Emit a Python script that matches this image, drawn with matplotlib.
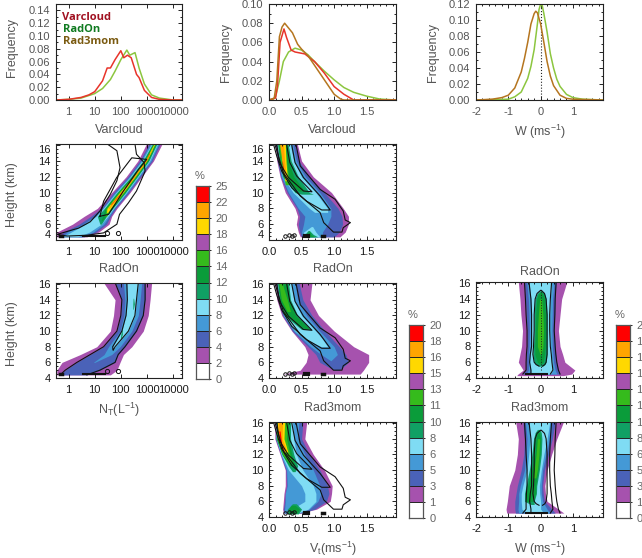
import numpy as np
import matplotlib
matplotlib.use("Agg")
import matplotlib.pyplot as plt
from matplotlib.colors import ListedColormap

plt.rcParams['font.family'] = ['Liberation Sans', 'DejaVu Sans']
plt.rcParams['mathtext.default'] = 'regular'

W_PX, H_PX = 642, 558

# colours of the percent bands, bottom to top
band_colors = ['#ffffff', '#a652ae', '#4a62b8', '#4499d6', '#7fdcf4', '#10a064',
               '#0a9c3a', '#35bb1c', '#a652ae', '#ffd800', '#ffa500', '#ff0000']
cbar_labels_nt = ['0', '2', '4', '6', '8', '10', '12', '14', '16', '18', '20', '22', '25']
cbar_labels_pct = ['0', '1', '3', '5', '6', '8', '10', '11', '13', '15', '16', '18', '20']

# frequency curves, top row
nt_x_red = [0.33, 1, 3, 6, 10, 20, 30, 40, 60, 100, 130, 180, 250, 400, 500, 800, 1500, 3000, 10000, 22000]
nt_y_red = [0, 0.001, 0.004, 0.008, 0.013, 0.03, 0.05, 0.05, 0.063, 0.077, 0.066, 0.07, 0.066, 0.04, 0.035, 0.015, 0.004, 0.001, 0, 0]
nt_x_green = [0.33, 1, 3, 6, 10, 20, 40, 60, 100, 170, 220, 350, 500, 800, 1500, 3000, 10000, 22000]
nt_y_green = [0, 0.001, 0.003, 0.007, 0.01, 0.018, 0.032, 0.045, 0.063, 0.078, 0.07, 0.074, 0.05, 0.025, 0.008, 0.003, 0, 0]

v_x_brown = [0, 0.08, 0.12, 0.16, 0.2, 0.24, 0.3, 0.36, 0.44, 0.5, 0.6, 0.7, 0.8, 0.9, 1.0, 1.1, 1.15, 1.95]
v_y_brown = [0, 0.002, 0.02, 0.066, 0.076, 0.08, 0.075, 0.07, 0.058, 0.053, 0.046, 0.036, 0.026, 0.016, 0.006, 0.001, 0, 0]
v_x_red = [0, 0.1, 0.13, 0.17, 0.23, 0.27, 0.34, 0.4, 0.55, 0.7, 0.85, 1.0, 1.15, 1.3, 1.95]
v_y_red = [0, 0.002, 0.015, 0.06, 0.074, 0.065, 0.052, 0.05, 0.048, 0.04, 0.028, 0.014, 0.006, 0, 0]
v_x_green = [0, 0.05, 0.1, 0.16, 0.22, 0.3, 0.4, 0.5, 0.6, 0.7, 0.85, 1.0, 1.15, 1.3, 1.5, 1.7, 1.95]
v_y_green = [0, 0, 0.003, 0.02, 0.04, 0.05, 0.054, 0.052, 0.047, 0.04, 0.03, 0.021, 0.013, 0.008, 0.004, 0.001, 0]

w_x_brown = [-2, -1.5, -1.2, -1, -0.8, -0.6, -0.5, -0.4, -0.3, -0.2, -0.15, -0.1, 0, 0.1, 0.2, 0.3, 0.4, 0.6, 0.8, 1, 1.93]
w_y_brown = [0, 0.001, 0.003, 0.006, 0.015, 0.035, 0.052, 0.072, 0.095, 0.108, 0.111, 0.109, 0.095, 0.072, 0.048, 0.03, 0.018, 0.006, 0.002, 0.001, 0]
w_x_green = [-2, -1, -0.8, -0.6, -0.4, -0.3, -0.2, -0.1, -0.05, 0, 0.05, 0.1, 0.2, 0.3, 0.4, 0.5, 0.6, 0.8, 1.0, 1.3, 1.93]
w_y_green = [0, 0.001, 0.004, 0.01, 0.027, 0.042, 0.063, 0.095, 0.113, 0.12, 0.118, 0.108, 0.085, 0.058, 0.04, 0.026, 0.017, 0.007, 0.003, 0.001, 0]

# contoured panels: (band, heights, left edge, right edge)
# edges for the NT panels are log10 of NT
h_nt = [4.4, 5, 6, 7, 8, 10, 12, 14, 16.3]
nt_radon_bands = [
    (1, h_nt, [-.45, -.45, .15, .6, 1.1, 1.65, 2.2, 2.65, 3.0], [.7, 1.15, 1.55, 1.65, 1.85, 2.35, 2.8, 3.25, 3.6]),
    (2, h_nt, [-.35, -.2, .4, .85, 1.25, 1.72, 2.27, 2.72, 3.1], [.6, 1.05, 1.45, 1.6, 1.8, 2.3, 2.75, 3.2, 3.52]),
    (3, h_nt, [-.25, -.05, .55, 1.0, 1.3, 1.78, 2.32, 2.77, 3.15], [.5, .95, 1.35, 1.55, 1.75, 2.25, 2.7, 3.15, 3.47]),
    (4, h_nt, [-.2, .1, .65, 1.05, 1.33, 1.82, 2.36, 2.81, 3.2], [.35, .8, 1.25, 1.5, 1.72, 2.21, 2.66, 3.1, 3.43]),
    (5, [6, 7, 8, 10, 12, 14, 16.3], [1.2, 1.1, 1.37, 1.85, 2.39, 2.84, 3.23], [1.25, 1.45, 1.69, 2.18, 2.63, 3.07, 3.4]),
    (6, [6.5, 8, 10, 12, 14, 16.3], [1.25, 1.4, 1.88, 2.42, 2.87, 3.26], [1.3, 1.66, 2.15, 2.6, 3.04, 3.37]),
    (7, [7, 8, 10, 12, 14, 16.3], [1.4, 1.43, 1.91, 2.45, 2.9, 3.28], [1.45, 1.63, 2.12, 2.57, 3.01, 3.34]),
    (9, [7.5, 8, 10, 12, 14, 16.3], [1.45, 1.47, 1.95, 2.48, 2.93, 3.29], [1.5, 1.6, 2.08, 2.54, 2.98, 3.32]),
    (10, [8, 10, 12, 14, 15.5], [1.5, 1.98, 2.5, 2.95, 3.2], [1.55, 2.05, 2.52, 2.97, 3.22]),
    (11, [8.5, 10, 12, 14, 15], [1.6, 2.0, 2.5, 2.95, 3.08], [1.62, 2.02, 2.51, 2.96, 3.1]),
]
nt_radon_line1_x = [1.46, 1.85, 1.97, 1.85, 1.6, 1.2, .83, .38, -.45, -.06, .7, 1.34, 1.85, 1.95, 2.29, 2.6, 2.93, 2.89, 2.6, 2.54]
nt_radon_line1_y = [16.2, 15.3, 13.15, 11.5, 9.8, 7.67, 6.3, 5.5, 4.7, 4.5, 4.6, 4.9, 6, 7.25, 8.7, 10.2, 12.7, 13.8, 14.85, 16.2]
nt_radon_line2_x = [1.2, 1.53, 2.1, 2.67, 2.99, 2.42, 1.84, 1.34, 1.2]
nt_radon_line2_y = [7, 7.25, 10.2, 12.9, 14.2, 14.4, 11.9, 8.9, 7]

h_nt3 = [4.4, 5, 6, 7, 8, 10, 12, 14, 16.2]
nt_3mom_bands = [
    (1, h_nt3, [-.45, -.45, -.25, .45, 1.08, 1.6, 1.72, 1.78, 1.34], [1.6, 1.85, 1.97, 2.1, 2.42, 2.86, 3.05, 3.12, 3.18]),
    (2, h_nt3, [-.32, -.13, .32, .83, 1.34, 1.85, 2.0, 2.04, 1.78], [.7, 1.2, 1.78, 1.9, 2.16, 2.6, 2.86, 2.93, 2.93]),
    (3, [6, 7, 8, 10, 12, 14, 16.2], [.95, 1.36, 1.53, 1.97, 2.12, 2.16, 2.1], [1.0, 1.65, 1.97, 2.42, 2.67, 2.74, 2.8]),
    (4, [7.6, 8, 10, 12, 14, 16.2], [1.7, 1.69, 2.04, 2.2, 2.25, 2.23], [1.72, 1.78, 2.29, 2.54, 2.6, 2.67]),
    (5, [9, 9.6, 10.2], [1.98, 2.0, 2.04], [2.0, 2.06, 2.05]),
    (5, [12.8, 13.5, 14.2], [2.46, 2.46, 2.47], [2.48, 2.52, 2.49]),
]

h_v = [4.4, 5, 6, 7, 8, 10, 12, 14, 16.3]
v_radon_bands = [
    (1, h_v, [.48, .45, .42, .44, .4, .25, .17, .12, .09], [1.09, 1.17, 1.22, 1.22, 1.14, .96, .68, .5, .43]),
    (2, h_v, [.5, .47, .45, .47, .43, .28, .18, .13, .1], [1.0, 1.08, 1.13, 1.12, 1.06, .85, .62, .46, .4]),
    (3, h_v, [.52, .5, .53, .55, .45, .3, .19, .14, .11], [.82, .82, .9, .95, .95, .78, .56, .42, .36]),
    (4, [7.5, 8, 10, 12, 14, 16.3], [.7, .62, .37, .21, .15, .12], [.9, .9, .72, .5, .38, .32]),
    (4, [4.4, 5, 5.7], [.53, .53, .65], [.78, .72, .67]),
    (5, [9.8, 10, 12, 14, 16.3], [.5, .4, .21, .16, .13], [.68, .62, .45, .34, .29]),
    (5, [4.4, 4.7, 5.2], [.55, .55, .6], [.75, .68, .62]),
    (6, [10.2, 12, 14, 16.3], [.45, .22, .17, .14], [.55, .38, .3, .26]),
    (6, [4.4, 4.7, 5], [.57, .58, .62], [.7, .64, .63]),
    (7, [11, 12, 14, 16.3], [.25, .23, .18, .15], [.3, .3, .27, .24]),
    (9, [11.5, 12, 14, 16.3], [.24, .25, .2, .18], [.27, .28, .26, .25]),
    (10, [11.7, 12, 14, 16.3], [.25, .25, .2, .16], [.26, .265, .24, .22]),
    (11, [12, 13, 14], [.24, .21, .2], [.24, .22, .205]),
]
h_v3 = [4.5, 5, 6, 7, 8, 10, 12, 14, 16.2]
v_3mom_bands = [
    (1, h_v3, [.22, .48, .57, .6, .55, .35, .195, .12, .09], [1.4, 1.45, 1.53, 1.53, 1.3, 1.0, .76, .63, .66]),
    (2, [5, 6, 7, 8, 10, 12, 14, 16.2], [1.0, .78, .72, .6, .36, .21, .14, .11], [1.08, 1.22, 1.18, 1.08, .86, .66, .52, .46]),
    (3, [6.2, 7, 8, 10, 12, 14, 16.2], [.95, .8, .64, .38, .22, .15, .12], [.95, 1.05, 1.0, .78, .58, .44, .4]),
    (4, [8, 9, 10, 12, 14, 16.2], [.8, .55, .4, .23, .16, .13], [.9, .82, .72, .5, .38, .34]),
    (5, [10.2, 12, 14, 16.2], [.5, .24, .16, .13], [.64, .44, .33, .3]),
    (6, [10.3, 12, 14, 16.2], [.55, .25, .17, .14], [.62, .41, .31, .28]),
    (7, [12.5, 14, 16.2], [.28, .19, .15], [.33, .28, .2]),
]
h_v4 = [4.5, 5, 6, 7, 8, 10, 12, 14, 16.2]
v_var_bands = [
    (1, h_v4, [.22, .21, .22, .23, .25, .25, .17, .09, .09], [.48, .73, .94, .96, .97, .85, .68, .55, .58]),
    (2, h_v4, [.23, .22, .24, .25, .27, .26, .18, .1, .1], [.5, .7, .88, .92, .9, .78, .62, .5, .52]),
    (3, h_v4, [.24, .24, .25, .25, .28, .27, .18, .11, .11], [.45, .62, .75, .8, .78, .68, .55, .44, .46]),
    (4, h_v4, [.3, .35, .55, .55, .5, .3, .19, .11, .11], [.45, .6, .72, .72, .68, .52, .42, .38, .36]),
    (5, [9.8, 10.5, 12, 14, 16.2], [.36, .3, .2, .11, .12], [.4, .44, .38, .33, .33]),
    (5, [4.4, 5, 5.7], [.28, .28, .36], [.45, .5, .42]),
    (6, [10.6, 12, 14, 16.2], [.31, .2, .12, .12], [.4, .35, .3, .3]),
    (6, [4.5, 5, 5.5], [.3, .3, .34], [.43, .47, .4]),
    (7, [11, 12, 14, 16.2], [.3, .21, .12, .12], [.35, .32, .27, .28]),
    (9, [12.3, 14, 16.2], [.23, .13, .13], [.29, .23, .24]),
    (10, [12.5, 14, 16.2], [.24, .14, .14], [.27, .2, .21]),
    (11, [12.5, 13, 15], [.24, .18, .15], [.25, .2, .17]),
]
# RadOn reference contours repeated on the fall speed panels
v_line1_x = [.415, .48, .785, 1.015, 1.14, 1.17, 1.25, 1.14, 1.12, .99, .84, .785, .48, .22, .13, .09]
v_line1_y = [16.1, 13.37, 10.4, 9.15, 7.67, 6.53, 6.2, 5.56, 5.0, 5.0, 6.2, 7.46, 9.57, 12.5, 15.05, 16.1]
v_line2_x = [.35, .4, .53, .785, .94, .81, .58, .35, .195, .12, .07]
v_line2_y = [16, 13.8, 11.9, 9.57, 7.8, 7.8, 8.9, 10.6, 12.7, 14.6, 16.1]
v_line3_x = [.27, .32, .425, .66, .53, .3, .16, .12]
v_line3_y = [16.1, 13.8, 12.1, 10.1, 10.2, 11.9, 13.8, 16.1]

h_w = [4.5, 5, 6, 7, 8, 10, 12, 14, 16.15]
w_radon_bands = [
    (1, [4.3, 4.5, 5, 6, 7, 8, 10, 12, 14, 16.15], [-.74, -.7, -.54, -.69, -.64, -.59, -.56, -.61, -.64, -.69],
     [.7, .96, 1.06, .75, .68, .6, .55, .6, .65, .81]),
    (2, h_w, [-.55, -.45, -.45, -.44, -.42, -.42, -.45, -.47, -.5], [.6, .55, .5, .47, .45, .42, .44, .45, .48]),
    (3, h_w, [-.45, -.38, -.38, -.38, -.36, -.35, -.36, -.38, -.43], [.5, .45, .4, .38, .36, .35, .36, .37, .42]),
    (4, h_w, [-.3, -.3, -.34, -.32, -.28, -.28, -.28, -.3, -.36], [.3, .38, .35, .33, .3, .28, .28, .3, .34]),
    (5, [5.5, 5.7, 6, 7, 8, 10, 12, 14, 14.7, 15.1], [-.05, -.14, -.2, -.24, -.22, -.2, -.2, -.17, -.11, 0],
     [.06, .13, .17, .2, .2, .2, .2, .17, .12, .02]),
    (6, [5.8, 6, 7, 8, 10, 12, 14, 14.6, 14.9], [-.03, -.1, -.18, -.18, -.16, -.15, -.12, -.07, -.01],
     [.02, .08, .12, .14, .15, .15, .12, .07, .02]),
    (7, [7, 8, 10, 12, 14], [-.02, -.1, -.1, -.07, -.03], [.02, .07, .09, .07, .03]),
]
h_w2 = [4.5, 5, 6, 7, 8, 10, 12, 14, 16.1]
w_var_bands = [
    (1, h_w2, [-1.05, -1.07, -1.03, -1, -.97, -.8, -.72, -.69, -.77], [.72, .55, .2, .15, .13, .2, .34, .5, .7]),
    (2, h_w2, [-.78, -.8, -.8, -.76, -.72, -.6, -.52, -.5, -.55], [.45, .35, .12, .08, .06, .12, .24, .36, .45]),
    (3, h_w2, [-.68, -.7, -.68, -.68, -.63, -.5, -.45, -.42, -.47], [.3, .2, .06, .02, .02, .06, .16, .28, .34]),
    (4, h_w2, [-.4, -.58, -.6, -.6, -.55, -.42, -.37, -.33, -.35], [.1, 0, 0, -.03, -.04, .02, .1, .2, .28]),
    (5, [5.6, 6, 7, 8, 10, 12, 14, 14.8, 15.2], [-.3, -.5, -.5, -.45, -.35, -.27, -.22, -.17, -.1],
     [-.2, -.2, -.13, -.12, -.04, .02, .04, .02, -.03]),
    (6, [6, 7, 8, 10, 12, 14, 14.8], [-.44, -.45, -.4, -.28, -.18, -.15, -.1], [-.25, -.16, -.15, -.08, -.02, 0, -.04]),
    (7, [9, 10, 12, 14], [-.25, -.2, -.14, -.1], [-.15, -.1, -.05, -.03]),
]

# small closed contours near cloud base
nt_spots_x = [30, 80]
nt_spots_y = [4.9, 4.9]
nt_blob_x = [3.5, 25]
nt_blob_y = [4.55, 4.55]
nt_blob2_x = [0.45, 0.55]
nt_blob2_y = [4.55, 4.55]
v_spots_x = [.25, .3, .35, .39]
v_spots_y = [4.55, 4.65, 4.5, 4.6]
v_blob_x = [.55, .6]
v_blob_y = [4.5, 4.5]
v_blob2_x = [.81, .84]
v_blob2_y = [4.5, 4.5]
w_blob_x = [-.45, .2]
w_blob_y = [4.45, 4.45]

yticks_h = [4, 6, 8, 10, 12, 14, 16]


def px_axes(fig, left, top, right, bottom):
    return fig.add_axes([left / W_PX, 1 - bottom / H_PX, (right - left) / W_PX, (bottom - top) / H_PX])


def style_axes(ax, ycolor='#1a1a1a', xcolor='#1a1a1a'):
    ax.tick_params(which='both', direction='in', top=True, right=True, width=0.6, pad=4)
    ax.tick_params(axis='x', which='both', pad=5)
    ax.tick_params(which='major', length=3)
    ax.tick_params(which='minor', length=1.5)
    ax.tick_params(axis='x', labelsize=8, labelcolor=xcolor)
    ax.tick_params(axis='y', labelsize=8, labelcolor=ycolor)
    for sp in ax.spines.values():
        sp.set_linewidth(0.8)
        sp.set_color('#222222')


def set_nt_x(ax):
    ax.set_xscale('log')
    ax.set_xlim(0.33, 22000)
    ax.set_xticks([1, 10, 100, 1000, 10000], ['1', '10', '100', '1000', '10000'])


def set_v_x(ax):
    ax.set_xlim(0, 1.95)
    ax.set_xticks([0, 0.5, 1.0, 1.5], ['0.0', '0.5', '1.0', '1.5'])
    ax.set_xticks(np.arange(0, 1.95, 0.1), minor=True)


def set_w_x(ax):
    ax.set_xlim(-2, 1.93)
    ax.set_xticks([-2, -1, 0, 1], ['-2', '-1', '0', '1'])
    ax.set_xticks(np.arange(-2, 1.9, 0.2), minor=True)


def xlabel(ax, text, pad=5):
    ax.set_xlabel(text, fontsize=9, color='#555555', labelpad=pad)


def freq_axes(ax, top, step, minor):
    ax.set_ylim(0, top)
    ax.set_yticks(np.arange(0, top + 1e-6, step), [f'{v:.2f}' for v in np.arange(0, top + 1e-6, step)])
    ax.set_yticks(np.arange(0, top + 1e-6, minor), minor=True)
    ax.set_ylabel('Frequency', fontsize=9, color='#555555')
    ax.yaxis.set_label_coords(-0.29, 0.5)
    style_axes(ax, '#555555', '#555555')


def draw_bands(ax, bands, log=False):
    for level, heights, left, right in bands:
        l, r = np.array(left, float), np.array(right, float)
        if log:
            l, r = 10 ** l, 10 ** r
        ax.fill_betweenx(heights, l, r, color=band_colors[level], lw=0)


def outline(ax, bands, levels, log=False):
    for level, heights, left, right in bands:
        if level not in levels:
            continue
        x = np.r_[left, right[::-1]]
        y = np.r_[heights, heights[::-1]]
        if log:
            x = 10 ** x
        ax.plot(x, y, color='#111111', lw=0.8)


def height_axes(ax, ylabel=False, ymax=16.15, squeeze=False):
    ax.set_ylim(4, ymax)
    ax.set_yticks(yticks_h)
    ax.set_yticks(np.arange(4, 16.5, 0.5), minor=True)
    if ylabel:
        ax.set_ylabel('Height (km)', fontsize=9, color='#555555')
        ax.yaxis.set_label_coords(-0.30, 0.47)
    style_axes(ax)
    if squeeze:
        labels = ax.get_yticklabels()
        labels[0].set_va('bottom')
        labels[-1].set_va('top')
    ax.set_facecolor('white')


def v_lines(ax):
    for x, y in [(v_line1_x, v_line1_y), (v_line2_x, v_line2_y), (v_line3_x, v_line3_y)]:
        ax.plot(x, y, color='#111111', lw=0.8)
    ax.plot(v_spots_x, v_spots_y, 'o', mfc='none', mec='#111111', ms=2.5, mew=0.7)
    ax.plot(v_blob_x, v_blob_y, color='#111111', lw=3)
    ax.plot(v_blob2_x, v_blob2_y, color='#111111', lw=2.5)


def nt_marks(ax):
    ax.plot(nt_spots_x, nt_spots_y, 'o', mfc='none', mec='#111111', ms=3, mew=0.7)
    ax.plot(nt_blob_x, nt_blob_y, color='#111111', lw=1.5)
    ax.plot(nt_blob2_x, nt_blob2_y, color='#111111', lw=2.5)


def colorbar(fig, left, top, right, bottom, labels, pct_x, pct_y):
    cax = px_axes(fig, left, top, right, bottom)
    levels = np.arange(len(band_colors) + 1)
    cax.pcolormesh([0, 1], levels, np.arange(len(band_colors))[:, None],
                   cmap=ListedColormap(band_colors), shading='flat')
    cax.hlines(levels[1:-1], 0, 1, color='#222222', lw=0.7)
    cax.set_xticks([])
    cax.set_yticks(levels, labels)
    cax.yaxis.tick_right()
    cax.tick_params(axis='y', direction='out', length=1.5, width=0.6, pad=3, labelsize=8, labelcolor='#666666')
    for sp in cax.spines.values():
        sp.set_linewidth(0.9)
        sp.set_color('#555555')
    fig.text(pct_x / W_PX, 1 - pct_y / H_PX, '%', fontsize=8, color='#666666', ha='center', va='center')


fig = plt.figure(figsize=(W_PX / 100, H_PX / 100), dpi=100)

# top row
ax = px_axes(fig, 56, 4, 182, 100)
ax.plot(nt_x_green, nt_y_green, color='#8cc63f', lw=1.1)
ax.plot(nt_x_red, nt_y_red, color='#e8342a', lw=1.1)
set_nt_x(ax)
freq_axes(ax, 0.15, 0.02, 0.01)
ax.set_yticks(np.arange(0, 0.141, 0.02), [f'{v:.2f}' for v in np.arange(0, 0.141, 0.02)])
ax.yaxis.set_label_coords(-0.30, 0.55)
xlabel(ax, 'Varcloud')
for y_px, name, col in [(17, 'Varcloud', '#a01020'), (29, 'RadOn', '#0f7a20'), (42, 'Rad3mom', '#7a5a10')]:
    fig.text(62.5 / W_PX, 1 - y_px / H_PX, name, color=col, fontsize=8, fontweight='bold',
             family=['Open Sans', 'DejaVu Sans'], va='center')

ax = px_axes(fig, 269, 4, 396, 100)
ax.plot(v_x_green, v_y_green, color='#8cc63f', lw=1.1)
ax.plot(v_x_red, v_y_red, color='#e8342a', lw=1.1)
ax.plot(v_x_brown, v_y_brown, color='#b5751f', lw=1.1)
set_v_x(ax)
freq_axes(ax, 0.10, 0.02, 0.01)
xlabel(ax, 'Varcloud')

ax = px_axes(fig, 476, 4, 603, 100)
ax.plot([0, 0], [0, 0.12], color='#222222', lw=0.8, ls=':')
ax.plot(w_x_green, w_y_green, color='#8cc63f', lw=1.1)
ax.plot(w_x_brown, w_y_brown, color='#b5751f', lw=1.1)
set_w_x(ax)
freq_axes(ax, 0.12, 0.02, 0.01)
xlabel(ax, 'W (ms$^{-1}$)', 4)

# second row
ax = px_axes(fig, 56, 144, 182, 240)
draw_bands(ax, nt_radon_bands, log=True)
ax.plot(10 ** np.array(nt_radon_line1_x), nt_radon_line1_y, color='#111111', lw=0.8)
ax.plot(10 ** np.array(nt_radon_line2_x), nt_radon_line2_y, color='#111111', lw=0.8)
nt_marks(ax)
set_nt_x(ax)
height_axes(ax, True, squeeze=True)
xlabel(ax, 'RadOn', 4)

ax = px_axes(fig, 269, 144, 396, 240)
draw_bands(ax, v_radon_bands)
v_lines(ax)
set_v_x(ax)
height_axes(ax, squeeze=True)
xlabel(ax, 'RadOn', 4)

# third row
ax = px_axes(fig, 56, 283, 182, 378)
draw_bands(ax, nt_3mom_bands, log=True)
outline(ax, nt_3mom_bands, [2, 4], log=True)
nt_marks(ax)
set_nt_x(ax)
height_axes(ax, True)
xlabel(ax, 'N$_{T}$(L$^{-1}$)', 4)

ax = px_axes(fig, 269, 283, 396, 378)
draw_bands(ax, v_3mom_bands)
v_lines(ax)
set_v_x(ax)
height_axes(ax)
xlabel(ax, 'Rad3mom')

ax = px_axes(fig, 476, 282, 603, 378)
draw_bands(ax, w_radon_bands)
ax.plot([0, 0], [5, 15], color='#222222', lw=0.7, ls=':')
outline(ax, w_radon_bands, [2, 4, 5])
ax.plot(w_blob_x, w_blob_y, color='#111111', lw=1.5)
set_w_x(ax)
height_axes(ax)
ax.set_title('RadOn', fontsize=9, color='#555555', pad=5)
xlabel(ax, 'Rad3mom')

# bottom row
ax = px_axes(fig, 269, 422, 396, 517)
draw_bands(ax, v_var_bands)
v_lines(ax)
set_v_x(ax)
height_axes(ax)
xlabel(ax, 'V$_{t}$(ms$^{-1}$)', 4)

ax = px_axes(fig, 476, 422, 603, 517)
draw_bands(ax, w_var_bands)
outline(ax, w_radon_bands, [2, 4, 5])
ax.plot(w_blob_x, w_blob_y, color='#111111', lw=1.5)
set_w_x(ax)
height_axes(ax)
xlabel(ax, 'W (ms$^{-1}$)', 4)

colorbar(fig, 196, 186, 209, 379, cbar_labels_nt, 200, 176)
colorbar(fig, 409, 325, 423, 518, cbar_labels_pct, 413, 315)
colorbar(fig, 616, 325, 630, 518, cbar_labels_pct, 620, 315)

fig.savefig('out.png', dpi=100)
